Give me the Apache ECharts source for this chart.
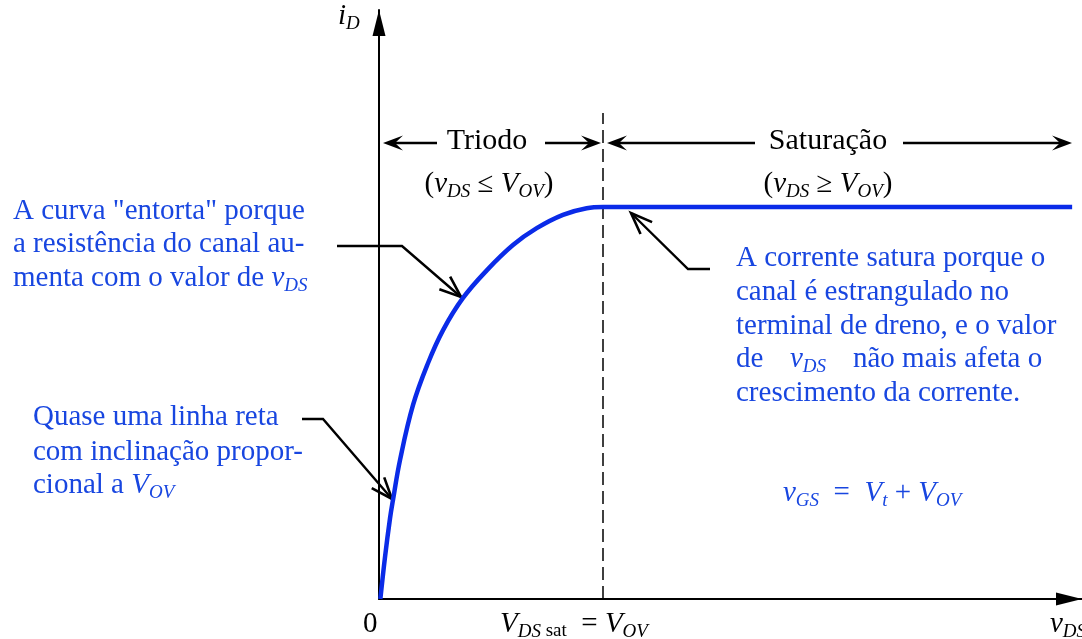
<!DOCTYPE html>
<html>
<head>
<meta charset="utf-8">
<script src="https://cdn.jsdelivr.net/npm/echarts@6/dist/echarts.min.js"></script>
<style>
html, body { margin: 0; padding: 0; background: #fff; }
#main { width: 1082px; height: 639px; }
</style>
</head>
<body>
<div id="main"></div>
<script>
// curva iD x vDS  (vDS em unidades de VOV, iD em unidades de iD sat)
var vDS = [0.006, 0.027, 0.049, 0.0625, 0.094, 0.152, 0.219, 0.286, 0.375, 0.482, 0.598, 0.704, 0.821, 0.927, 1, 3.094];
var iD  = [0, 0.108, 0.205, 0.253, 0.355, 0.495, 0.602, 0.686, 0.768, 0.839, 0.903, 0.946, 0.980, 0.997, 1, 1];
var vOV = 1;          // fronteira triodo / saturação
var xMax = 3.138;
var yMax = 1.5026;
var dashTop = 1.24;   // topo da linha tracejada

var SERIF = '"Liberation Serif", "Times New Roman", serif';
var BLUE = '#1846e0';
var CURVE = '#0a2be8';

// estilos rich para subscritos
function richFor(color, size) {
    var sub = Math.round(size * 0.66);
    return {
        i: { fontFamily: SERIF, fontStyle: 'italic', fontSize: size, lineHeight: 34, fill: color },
        s: { fontFamily: SERIF, fontStyle: 'italic', fontSize: sub, lineHeight: 20, verticalAlign: 'bottom', fill: color },
        r: { fontFamily: SERIF, fontSize: sub, lineHeight: 20, verticalAlign: 'bottom', fill: color }
    };
}

function txt(x, y, text, color, size, align) {
    size = size || 29;
    return {
        type: 'text', x: x, y: y, silent: true,
        style: {
            text: text, fill: color, fontFamily: SERIF, fontSize: size, lineHeight: 34,
            align: align || 'left', verticalAlign: 'middle',
            rich: richFor(color, size)
        }
    };
}

// linha com seta (open = ponta em V, senão ponta cheia)
function arrow(points, open) {
    var n = points.length;
    var tip = points[n - 1], prev = points[n - 2];
    var dx = prev[0] - tip[0], dy = prev[1] - tip[1];
    var len = Math.sqrt(dx * dx + dy * dy);
    var ux = dx / len, uy = dy / len;
    var els = [];
    if (open) {
        var L = 23, a = 21 * Math.PI / 180;
        var c = Math.cos(a), s = Math.sin(a);
        var p1 = [tip[0] + L * (ux * c - uy * s), tip[1] + L * (ux * s + uy * c)];
        var p2 = [tip[0] + L * (ux * c + uy * s), tip[1] + L * (-ux * s + uy * c)];
        els.push({ type: 'polyline', silent: true, shape: { points: points },
            style: { stroke: '#000', lineWidth: 2.4, fill: null } });
        els.push({ type: 'polyline', silent: true, shape: { points: [p1, tip, p2] },
            style: { stroke: '#000', lineWidth: 2.6, fill: null } });
    } else {
        var H = 20, W = 7.5;
        var b1 = [tip[0] + H * ux - W * uy, tip[1] + H * uy + W * ux];
        var b2 = [tip[0] + H * ux + W * uy, tip[1] + H * uy - W * ux];
        var nt = [tip[0] + H * 0.6 * ux, tip[1] + H * 0.6 * uy];
        var pts = points.slice(0, n - 1).concat([nt]);
        els.push({ type: 'polyline', silent: true, shape: { points: pts },
            style: { stroke: '#000', lineWidth: 2.6, fill: null } });
        els.push({ type: 'polygon', silent: true, shape: { points: [tip, b1, nt, b2] },
            style: { fill: '#000' } });
    }
    return els;
}

var curveData = vDS.map(function (v, k) { return [v, iD[k]]; });

var graphics = [
    // rótulos dos eixos
    txt(338, 16, '{i|i}{s|D}', '#000', 29),
    txt(363, 624, '0', '#000', 29),
    txt(500, 624, '{i|V}{s|DS}{r| sat}  = {i|V}{s|OV}', '#000', 29),
    txt(1050, 624, '{i|v}{s|DS}', '#000', 29),
    // regiões
    txt(487, 141, 'Triodo', '#000', 30, 'center'),
    txt(828, 141, 'Saturação', '#000', 30, 'center'),
    txt(489, 184, '({i|v}{s|DS} ≤ {i|V}{s|OV})', '#000', 29, 'center'),
    txt(828, 184, '({i|v}{s|DS} ≥ {i|V}{s|OV})', '#000', 29, 'center'),
    // notas à esquerda
    txt(13, 211, 'A curva "entorta" porque', BLUE),
    txt(13, 244, 'a resistência do canal au-', BLUE),
    txt(13, 278, 'menta com o valor de {i|v}{s|DS}', BLUE),
    txt(33, 417, 'Quase uma linha reta', BLUE),
    txt(33, 452, 'com inclinação propor-', BLUE),
    txt(33, 485, 'cional a {i|V}{s|OV}', BLUE),
    // nota à direita
    txt(736, 258, 'A corrente satura porque o', BLUE),
    txt(736, 292, 'canal é estrangulado no', BLUE),
    txt(736, 326, 'terminal de dreno, e o valor', BLUE),
    txt(736, 359, 'de', BLUE),
    txt(790, 359, '{i|v}{s|DS}', BLUE),
    txt(853, 359, 'não mais afeta o', BLUE),
    txt(736, 393, 'crescimento da corrente.', BLUE),
    txt(783, 493, '{i|v}{s|GS}  =  {i|V}{s|t} + {i|V}{s|OV}', BLUE)
];

graphics = graphics
    .concat(arrow([[437, 143], [383, 143]], false))
    .concat(arrow([[545, 143], [601, 143]], false))
    .concat(arrow([[755, 143], [607, 143]], false))
    .concat(arrow([[903, 143], [1072, 143]], false))
    .concat(arrow([[337, 246], [402, 246], [461, 297]], true))
    .concat(arrow([[302, 419], [323, 419], [392, 499]], true))
    .concat(arrow([[710, 269], [688, 269], [631, 213]], true));

var axisArrow = 'path://M5,0 L10,20 L0,20 Z';

var myChart = echarts.init(document.getElementById('main'));
var option = {
    animation: false,
    backgroundColor: '#fff',
    grid: { left: 379, right: 0, top: 10, bottom: 40 },
    xAxis: {
        type: 'value', min: 0, max: xMax,
        axisLine: { show: true, symbol: ['none', axisArrow], symbolSize: [13, 26], symbolOffset: [0, -13],
            lineStyle: { color: '#000', width: 2 } },
        axisTick: { show: false }, axisLabel: { show: false }, splitLine: { show: false }
    },
    yAxis: {
        type: 'value', min: 0, max: yMax,
        axisLine: { show: true, symbol: ['none', axisArrow], symbolSize: [13, 26], symbolOffset: [0, -13],
            lineStyle: { color: '#000', width: 2 } },
        axisTick: { show: false }, axisLabel: { show: false }, splitLine: { show: false }
    },
    series: [
        {
            name: 'iD',
            type: 'line',
            data: curveData,
            smooth: 0.4,
            showSymbol: false,
            z: 5,
            lineStyle: { color: CURVE, width: 4.5 },
            markLine: {
                silent: true,
                symbol: 'none',
                label: { show: false },
                lineStyle: { color: '#000', width: 1.5, type: [13, 6] },
                data: [[{ coord: [vOV, 0] }, { coord: [vOV, dashTop] }]]
            }
        }
    ],
    graphic: graphics
};
myChart.setOption(option);
</script>
</body>
</html>
